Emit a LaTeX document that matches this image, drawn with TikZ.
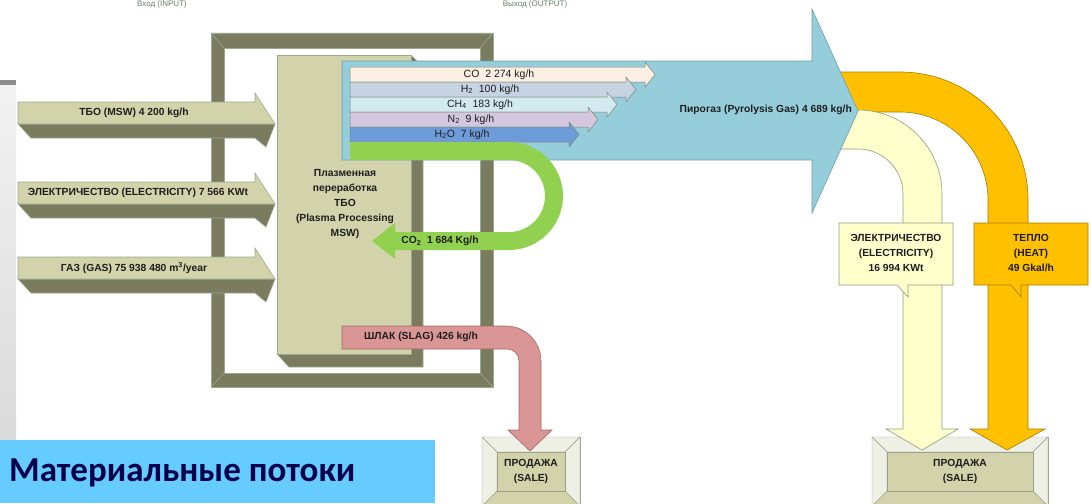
\documentclass[tikz,border=0pt]{standalone}
\usepackage{fontspec}
\setmainfont{Liberation Sans}
\newfontfamily\titlefont{Carlito}
\usepackage{tikz}
\usetikzlibrary{positioning}
\definecolor{OliveDark}{HTML}{7B7B5F}
\definecolor{Beige}{HTML}{D2D3AB}
\definecolor{FrameEdge}{HTML}{9AAA8E}
\definecolor{BoxEdge}{HTML}{9C9E8A}
\definecolor{Ink}{HTML}{1E1E1E}
\definecolor{PyroBlue}{HTML}{96CDDA}
\definecolor{PyroEdge}{HTML}{6F9FA8}
\definecolor{HeatOrange}{HTML}{FFC000}
\definecolor{HeatEdge}{HTML}{A57C00}
\definecolor{ElecYellow}{HTML}{FFFFCC}
\definecolor{ElecEdge}{HTML}{8E9B7E}
\definecolor{CoGreen}{HTML}{92D050}
\definecolor{SlagPink}{HTML}{D99694}
\definecolor{SlagEdge}{HTML}{A06A66}
\definecolor{GasCO}{HTML}{FDEFE3}
\definecolor{GasHH}{HTML}{C6D3E3}
\definecolor{GasCH}{HTML}{D3EBF0}
\definecolor{GasNN}{HTML}{D3C8DF}
\definecolor{GasWater}{HTML}{6E9CD9}
\definecolor{BevelLight}{HTML}{EEF0E6}
\definecolor{PanelTop}{HTML}{F2F2F2}
\definecolor{PanelBot}{HTML}{DADADA}
\definecolor{PanelBar}{HTML}{8C8C8C}
\definecolor{TitleBlue}{HTML}{66CCFF}
\definecolor{TitleInk}{HTML}{00004D}
\definecolor{CutInk}{HTML}{5F8068}
\newcommand{\lblfont}{\bfseries\fontsize{10.3}{15}\selectfont}
\newcommand{\inarrow}[1]{% #1 = top edge of the face
  \path[olive] (18,#1+22) -- (275,#1+22) -- (266,#1+45) -- (255,#1+36) -- (31,#1+36) -- cycle;
  \path[beige] (18,#1) -- (255,#1) -- (255,#1-9) -- (275,#1+22) -- (18,#1+22) -- cycle;}
\newcommand{\gasbar}[3]{% #1 = top, #2 = tip x, #3 = colour
  \path[gasbar, fill=#3] (350,#1) -- (#2-10,#1) -- (#2-10,#1-5) -- (#2,#1+7.5)
    -- (#2-10,#1+20) -- (#2-10,#1+15) -- (350,#1+15) -- cycle;}
\newcommand{\salebox}[5]{% corners, then name
  \path[fill=Beige, draw=BoxEdge] (#1,#2) rectangle (#3,#4);
  \path[fill=BevelLight, draw=BoxEdge] (#1,#2) -- (#3,#2) -- (#3-15,#2+15) -- (#1+15,#2+15) -- cycle;
  \path[fill=BevelLight, draw=BoxEdge] (#1,#2) -- (#1+15,#2+15) -- (#1+15,#4-15) -- (#1,#4) -- cycle;
  \path[fill=BevelLight, draw=BoxEdge] (#3,#2) -- (#3-15,#2+15) -- (#3-15,#4-15) -- (#3,#4) -- cycle;
  \path[fill=Beige, draw=BoxEdge] (#1+15,#2+15) rectangle (#3-15,#4-15);
  \node[lbl] (#5) at ({(#1+#3)/2},{(#2+#4)/2}) {ПРОДАЖА\\(SALE)};}
\tikzset{
  lbl/.style    = {font=\lblfont, text=Ink, inner sep=0pt, align=center},
  gaslbl/.style = {font=\fontsize{10.5}{12}\selectfont, text=Ink, inner sep=0pt},
  olive/.style  = {fill=OliveDark, draw=FrameEdge, line width=0.6pt},
  beige/.style  = {fill=Beige, draw=FrameEdge, line width=0.6pt},
  gasbar/.style = {draw=FrameEdge!80!black, line width=0.5pt},
  band/.style   = {line width=0.6pt},
  cut/.style    = {font=\fontsize{8}{9}\selectfont, text=CutInk, anchor=north, inner sep=0pt},
}

\begin{document}
\begin{tikzpicture}[x=1pt, y=-1pt]
  \useasboundingbox (0,0) rectangle (1091,503);

  % slide edge on the left
  \shade[top color=PanelTop, bottom color=PanelBot] (0,85) rectangle (16,440);
  \fill[PanelBar] (0,80) rectangle (16,85);

  % frame
  \path[olive, even odd rule] (211,33) rectangle (493,387) (224,48) rectangle (480,373);
  \draw[FrameEdge, line width=0.6pt] (211,33) -- (224,48) (493,33) -- (480,48)
    (211,387) -- (224,373) (493,387) -- (480,373);

  % process box
  \path[olive] (411,55) -- (423,67) -- (423,367) -- (289,367) -- (277,354) -- (411,354) -- cycle;
  \path[beige] (277,55) rectangle (411,354);
  \node[lbl] (proc) at (345,204) {Плазменная\\переработка\\ТБО\\(Plasma Processing\\MSW)};

  % sale boxes
  \salebox{482}{437}{580}{506}{saleA}
  \salebox{872}{437}{1048}{506}{saleB}

  % heat and electricity out of the gas
  \path[band, fill=HeatOrange, draw=HeatEdge] (820,72) -- (900,72) arc[start angle=-90, end angle=0, radius=128]
    -- (1028,429) -- (1045,429) -- (1007,450) -- (970,429) -- (988,429)
    -- (988,200) arc[start angle=0, end angle=-90, radius=88] -- (820,112) -- cycle;
  \path[band, fill=ElecYellow, draw=ElecEdge] (820,110) -- (858,110) arc[start angle=-90, end angle=0, radius=84]
    -- (942,429) -- (958,429) -- (922,450) -- (886,429) -- (903,429)
    -- (903,194) arc[start angle=0, end angle=-90, radius=45] -- (820,149) -- cycle;

  % pyrolysis gas
  \path[band, fill=PyroBlue, draw=PyroEdge] (342,61) -- (812,61) -- (812,9) -- (858,111)
    -- (812,213) -- (812,160) -- (342,160) -- cycle;
  \node[lbl, anchor=east] (pyro) at (852,110) {Пирогаз (Pyrolysis Gas) 4 689 kg/h};

  \gasbar{67}{655}{GasCO}
  \gasbar{82}{636}{GasHH}
  \gasbar{97}{617}{GasCH}
  \gasbar{112}{598}{GasNN}
  \gasbar{127}{579}{GasWater}
  \node[gaslbl] (co)  at (499,74.5)  {CO\ \ 2 274 kg/h};
  \node[gaslbl] (hh)  at (490,89.5)  {H\textsubscript{2}\ \ 100 kg/h};
  \node[gaslbl] (ch)  at (480,104.5) {CH\textsubscript{4}\ \ 183 kg/h};
  \node[gaslbl] (nn)  at (471,119.5) {N\textsubscript{2}\ \ 9 kg/h};
  \node[gaslbl] (hho) at (462,134.5) {H\textsubscript{2}O\ \ 7 kg/h};

  % CO2 loop back
  \path[fill=CoGreen] (350,142) -- (509,142) arc[start angle=-90, end angle=90, radius=54]
    -- (395,250) -- (395,259) -- (372,241) -- (395,223) -- (395,232) -- (509,232)
    arc[start angle=90, end angle=-90, radius=36] -- (350,160) -- cycle;
  \node[lbl] (co2) at (440,241) {CO\textsubscript{2}\ \ 1 684 Kg/h};

  % slag
  \path[band, fill=SlagPink, draw=SlagEdge] (342,326) -- (506,326) arc[start angle=-90, end angle=0, radius=35]
    -- (541,430) -- (552,430) -- (530,451) -- (508,430) -- (519,430)
    -- (519,361) arc[start angle=0, end angle=-90, radius=12] -- (342,349) -- cycle;
  \node[lbl] (slag) at (421,337) {ШЛАК (SLAG) 426 kg/h};

  % callouts
  \path[band, fill=ElecYellow, draw=ElecEdge] (839,223) -- (953,223) -- (953,285) -- (908,285)
    -- (908,297) -- (897,285) -- (839,285) -- cycle;
  \node[lbl] (elecout) at (896,253) {ЭЛЕКТРИЧЕСТВО\\(ELECTRICITY)\\16 994 KWt};
  \path[band, fill=HeatOrange, draw=HeatEdge] (974,223) -- (1088,223) -- (1088,285) -- (1021,285)
    -- (1021,297) -- (1011,285) -- (974,285) -- cycle;
  \node[lbl] (heat) at (1031,253) {ТЕПЛО\\(HEAT)\\49 Gkal/h};

  % inputs
  \inarrow{102}
  \node[lbl] (msw) at (134,113) {ТБО (MSW) 4 200 kg/h};
  \inarrow{182}
  \node[lbl] (elecin) at (138,193) {ЭЛЕКТРИЧЕСТВО (ELECTRICITY) 7 566 KWt};
  \inarrow{257}
  \node[lbl] (gas) at (134,268) {ГАЗ (GAS) 75 938 480 m\textsuperscript{3}/year};

  % title
  \fill[TitleBlue] (0,440) rectangle (435,503);
  \node[font=\titlefont\bfseries\fontsize{35}{40}\selectfont, text=TitleInk, anchor=base west, inner sep=0pt]
    (title) at (9,481) {Материальные потоки};

  % headings at the top edge
  \node[cut] (vhod) at (162,0.5) {Вход (INPUT)};
  \node[cut] (vyhod) at (535,0.5) {Выход (OUTPUT)};
\end{tikzpicture}
\end{document}
